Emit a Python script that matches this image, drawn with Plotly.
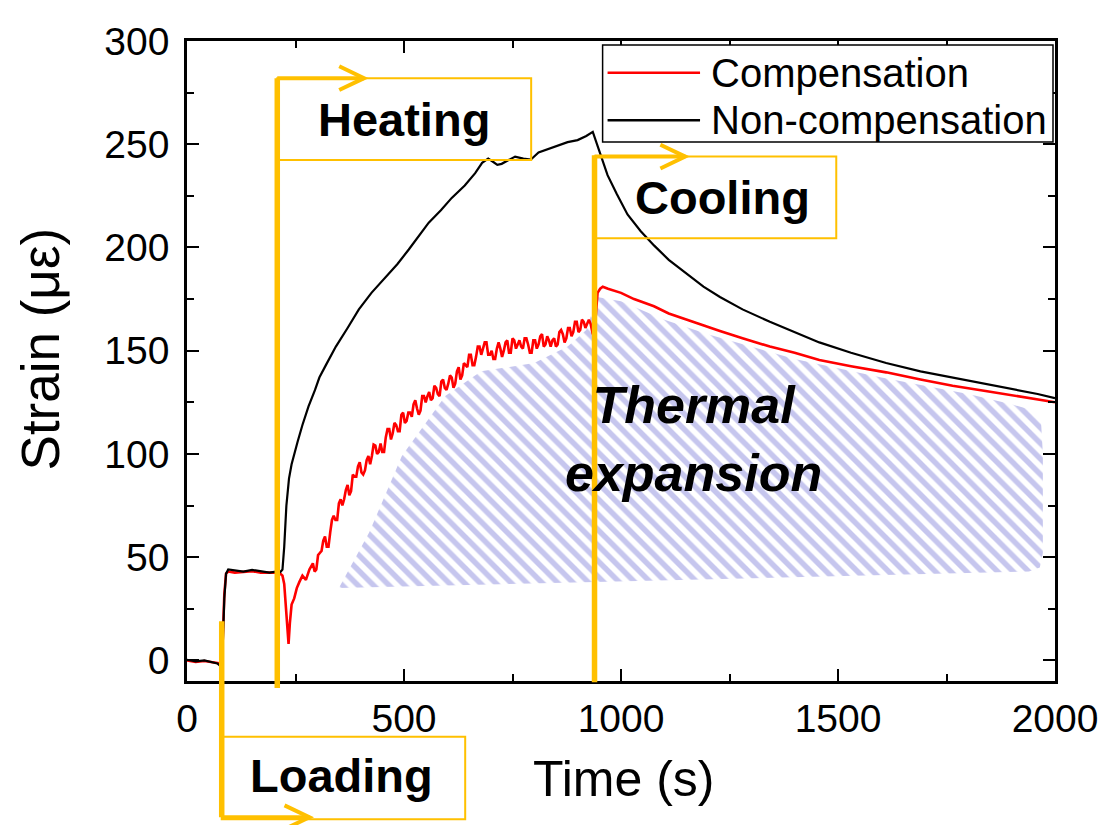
import plotly.graph_objects as go

# ---------------- data ----------------
time_black = [0, 20, 40, 60, 70, 78, 82, 86, 90, 95, 110, 130, 150, 170, 190, 205, 215, 220, 224, 229,
              235, 241, 247, 255, 266, 280, 295, 305, 320, 343, 370, 396, 425, 458, 485, 511, 535, 557,
              585, 610, 640, 664, 680, 694, 705, 715, 725, 740, 756, 775, 792, 810, 824, 850, 877, 900,
              920, 935, 940, 946, 955, 969, 990, 1015, 1045, 1076, 1110, 1152, 1190, 1228, 1280, 1343,
              1400, 1457, 1530, 1611, 1690, 1764, 1840, 1916, 1960, 2000]
strain_black = [0.3, -0.5, 0, -0.8, -1.5, -3, 5, 30, 42, 44, 43.5, 43, 43.8, 43, 42.5, 43, 42.8, 44, 55, 75,
                88, 95, 100, 106, 114, 123, 131, 137, 143, 152, 161, 170, 178, 186, 192, 199, 206, 212,
                218, 224, 230, 236, 241, 243, 241.5, 240, 240.5, 242, 244, 243, 242.5, 246, 247, 249, 251, 252,
                254, 256, 253, 249, 243, 235, 226, 216, 208, 201, 194, 187, 181, 176, 170, 164,
                159, 154, 149, 144, 140, 137, 134, 131, 129, 127]

# compensated signal: main samples
time_red = [0, 20, 40, 60, 70, 78, 82, 86, 90, 95, 110, 130, 150, 170, 190, 205, 215, 220, 224, 228,
            231, 234, 237, 241, 247, 253, 259, 266, 274, 282,
            290, 298, 306, 314, 322, 330, 338, 346, 354, 362, 370, 378, 386, 394, 402, 410, 418, 426,
            434, 442, 450, 458, 466, 474, 482, 490, 498, 506, 514, 522, 530, 538, 546, 554, 562, 570,
            578, 586, 594, 602, 610, 618, 626, 634, 642, 650, 658, 666, 674, 682, 690, 698, 706, 714,
            722, 730, 738, 746, 754, 762, 770, 778, 786, 794, 802, 810, 818, 826, 834, 842, 850, 858,
            866, 874, 882, 890, 898, 906, 914, 922, 930,
            935, 940, 946, 952, 958, 970, 985, 1000, 1030, 1076, 1110, 1152, 1190, 1228, 1280, 1343,
            1400, 1457, 1530, 1611, 1690, 1764, 1840, 1916, 1960, 2000]
strain_red = [0, -0.8, -0.3, -1, -1.2, -1.5, 8, 32, 42, 43, 42.5, 42.8, 43.2, 42.5, 42.7, 42.5, 42, 41, 37, 27,
              17, 8, 18, 27, 30, 35, 38, 41, 39, 44,
              47, 44, 52, 58, 55, 62, 70, 68, 78, 78, 85, 82, 89, 94, 91, 92, 99, 99,
              104, 101, 101, 108, 112, 110, 114, 111, 120, 116, 120, 124, 122, 121, 128, 128, 126, 133,
              129, 135, 132, 134, 137, 134, 142, 138, 143, 148, 143, 147, 152, 151, 154, 148, 146, 151,
              151, 150, 155, 149, 155, 153, 152, 156, 153, 149, 155, 153, 158, 153, 155, 155, 152, 159,
              158, 156, 161, 159, 164, 160, 164, 163, 163,
              158, 162, 178, 180, 181, 180, 179, 178, 175, 171.5, 168, 165, 162, 159.5, 156, 152,
              149, 145.5, 142.5, 139.5, 136, 133, 130.5, 128, 126.5, 125]
# compensated signal: extra noisy samples in the heating stage
time_red_extra = [294, 302, 310, 318, 326, 334, 342, 350, 358, 366, 374, 382, 390, 398, 406, 414, 422,
                  430, 438, 446, 454, 462, 470, 478, 486, 494, 502, 510, 518, 526, 534, 542, 550, 558,
                  566, 574, 582, 590, 598, 606, 614, 622, 630, 638, 646, 654, 662, 670, 678, 686, 694,
                  702, 710, 718, 726, 734, 742, 750, 758, 766, 774, 782, 790, 798, 806, 814, 822, 830,
                  838, 846, 854, 862, 870, 878, 886, 894, 902, 910, 918, 926]
strain_red_extra = [43, 51, 53, 60, 55, 68, 68, 76, 75, 82.5, 80, 90, 89, 96, 90, 97, 95,
                    104.5, 100, 105, 101, 112, 107, 115, 111, 119, 115, 120, 118, 126, 119, 128, 125, 130,
                    127, 132, 128, 136, 131, 138, 132, 140, 136, 144, 142, 148, 143, 152, 148, 154, 148,
                    150, 146, 154, 147, 154, 149, 156, 151, 155, 151, 156, 149, 155, 151, 157, 152, 157,
                    152, 156, 153, 160, 154, 161, 157, 164, 159, 165, 161, 165]

# hatched "thermal expansion" region outline (time, strain)
hatch_time = [350, 420, 495, 595, 678, 800, 877, 920, 945, 1000, 1100, 1200, 1400, 1600, 1800, 1900,
              1950, 1968, 1972, 1972, 1965, 1940, 940, 400, 350]
hatch_strain = [35, 62, 99, 128, 140, 144, 152, 160, 176, 174, 165, 158, 146, 137, 129, 124,
                121, 115, 100, 52, 45, 43, 38, 35, 35]

series_names = ["Compensation", "Non-compensation"]
series_colors = ["#ff0000", "#000000"]
x_ticks = [0, 500, 1000, 1500, 2000]
y_ticks = [0, 50, 100, 150, 200, 250, 300]

X_RANGE = [0, 2000]
Y_RANGE = [-10, 300]

# process phase markers, in data units (time, strain)
phases = [
    dict(label="Loading", t=80, s_a=19, s_b=-76, arrow_s=-76, tip_t=282,
         box_t1=641, box_s0=-37, box_s1=-77, text_t=355, text_s=-56),
    dict(label="Heating", t=208, s_a=-13.4, s_b=282, arrow_s=282, tip_t=408,
         box_t1=793, box_s0=242.3, box_s1=282, text_t=500, text_s=262),
    dict(label="Cooling", t=939, s_a=-10.6, s_b=244.7, arrow_s=244, tip_t=1148,
         box_t1=1496, box_s0=204.4, box_s1=244, text_t=1233, text_s=224),
]

# ---------------- figure ----------------
FONT = "Liberation Sans, Arial, sans-serif"
ORANGE = "#FFC000"
PLOT_W, PLOT_H = 873, 646


def xp(t):
    return (t - X_RANGE[0]) / (X_RANGE[1] - X_RANGE[0])


def yp(s):
    return (s - Y_RANGE[0]) / (Y_RANGE[1] - Y_RANGE[0])


def px_x(dx):
    return dx / PLOT_W


def px_y(dy):
    return dy / PLOT_H


red_pairs = sorted(zip(time_red + time_red_extra, strain_red + strain_red_extra))
red_t = [p[0] for p in red_pairs]
red_s = [p[1] for p in red_pairs]

fig = go.Figure()

fig.add_trace(go.Scatter(
    x=hatch_time, y=hatch_strain, mode="lines", fill="toself",
    line=dict(color="rgba(0,0,0,0)", width=0),
    fillcolor="rgba(255,255,255,0)",
    fillpattern=dict(shape="\\", fgcolor="#8e8ede", bgcolor="rgba(255,255,255,0)",
                     size=11, solidity=0.5),
    showlegend=False, hoverinfo="skip"))

fig.add_trace(go.Scatter(
    x=red_t, y=red_s, mode="lines", name=series_names[0],
    line=dict(color=series_colors[0], width=2.6), showlegend=False))
fig.add_trace(go.Scatter(
    x=time_black, y=strain_black, mode="lines", name=series_names[1],
    line=dict(color=series_colors[1], width=2.2), showlegend=False))

shapes = []
annotations = []
for ph in phases:
    # thick vertical line
    shapes.append(dict(type="line", xref="paper", yref="paper",
                       x0=xp(ph["t"]), x1=xp(ph["t"]), y0=yp(ph["s_a"]), y1=yp(ph["s_b"]),
                       line=dict(color=ORANGE, width=5.5)))
    # box
    shapes.append(dict(type="rect", xref="paper", yref="paper",
                       x0=xp(ph["t"]), x1=xp(ph["box_t1"]), y0=yp(ph["box_s0"]), y1=yp(ph["box_s1"]),
                       line=dict(color=ORANGE, width=2), fillcolor="rgba(0,0,0,0)"))
    # arrow shaft
    shapes.append(dict(type="line", xref="paper", yref="paper",
                       x0=xp(ph["t"]), x1=xp(ph["tip_t"]), y0=yp(ph["arrow_s"]), y1=yp(ph["arrow_s"]),
                       line=dict(color=ORANGE, width=4)))
    # chevron head
    tx, ty = xp(ph["tip_t"]), yp(ph["arrow_s"])
    dx, dy = px_x(25), px_y(12)
    shapes.append(dict(type="path", xref="paper", yref="paper",
                       path=f"M {tx-dx},{ty+dy} L {tx},{ty} L {tx-dx},{ty-dy}",
                       line=dict(color=ORANGE, width=4)))
    annotations.append(dict(xref="paper", yref="paper", x=xp(ph["text_t"]), y=yp(ph["text_s"]),
                            text=f"<b>{ph['label']}</b>", showarrow=False,
                            font=dict(family=FONT, size=47, color="black"),
                            xanchor="center", yanchor="middle"))

annotations.append(dict(xref="paper", yref="paper", x=xp(1168), y=yp(107),
                        text="<b><i>Thermal<br>expansion</i></b>", showarrow=False,
                        font=dict(family=FONT, size=52, color="black"),
                        xanchor="center", yanchor="middle", align="center"))
# axis titles
annotations.append(dict(xref="paper", yref="paper", x=xp(1005), y=-0.153,
                        text="Time (s)", showarrow=False,
                        font=dict(family=FONT, size=50, color="black"),
                        xanchor="center", yanchor="middle"))
annotations.append(dict(xref="paper", yref="paper", x=-px_x(147), y=yp(151),
                        text="Strain (\u03bc\u03b5)", showarrow=False, textangle=-90,
                        font=dict(family=FONT, size=53, color="black"),
                        xanchor="center", yanchor="middle", borderpad=0))

# legend box (top right, inside the plot)
LEG_X0, LEG_X1 = px_x(418), px_x(871)          # offsets from the plot's left edge, px
LEG_Y1, LEG_Y0 = 1 - px_y(4), 1 - px_y(102)     # from the plot's top edge, px
shapes.append(dict(type="rect", xref="paper", yref="paper",
                   x0=LEG_X0, x1=LEG_X1, y0=LEG_Y0, y1=LEG_Y1,
                   line=dict(color="black", width=1.5), fillcolor="white", layer="above"))
for i, (name, col) in enumerate(zip(series_names, series_colors)):
    row_y = 1 - px_y(32 + 48 * i)
    shapes.append(dict(type="line", xref="paper", yref="paper",
                       x0=LEG_X0 + px_x(5), x1=LEG_X0 + px_x(98), y0=row_y, y1=row_y,
                       line=dict(color=col, width=2.5), layer="above"))
    annotations.append(dict(xref="paper", yref="paper", x=LEG_X0 + px_x(107), y=row_y,
                            text=name, showarrow=False, xanchor="left", yanchor="middle",
                            font=dict(family=FONT, size=40, color="black")))

axis_common = dict(
    showline=True, linecolor="black", linewidth=2.5, mirror="allticks",
    ticks="inside", ticklen=12, tickwidth=2, tickcolor="black",
    showgrid=False, zeroline=False,
    tickfont=dict(family=FONT, size=39, color="black"),
)

fig.update_layout(
    width=1102, height=817,
    margin=dict(l=179, r=50, t=27, b=144),
    paper_bgcolor="white", plot_bgcolor="white",
    shapes=shapes, annotations=annotations,
    showlegend=False,
    xaxis=dict(range=X_RANGE, tickvals=x_ticks, ticktext=[str(v) for v in x_ticks],
               minor=dict(ticks="inside", ticklen=7, tickwidth=2, dtick=250, tickcolor="black"),
               ticklabelstandoff=1, **axis_common),
    yaxis=dict(range=Y_RANGE, tickvals=y_ticks, ticktext=[str(v) for v in y_ticks],
               minor=dict(ticks="inside", ticklen=7, tickwidth=2, dtick=25, tickcolor="black"),
               ticklabelstandoff=7, **axis_common),
)

fig.write_html("out.html")
